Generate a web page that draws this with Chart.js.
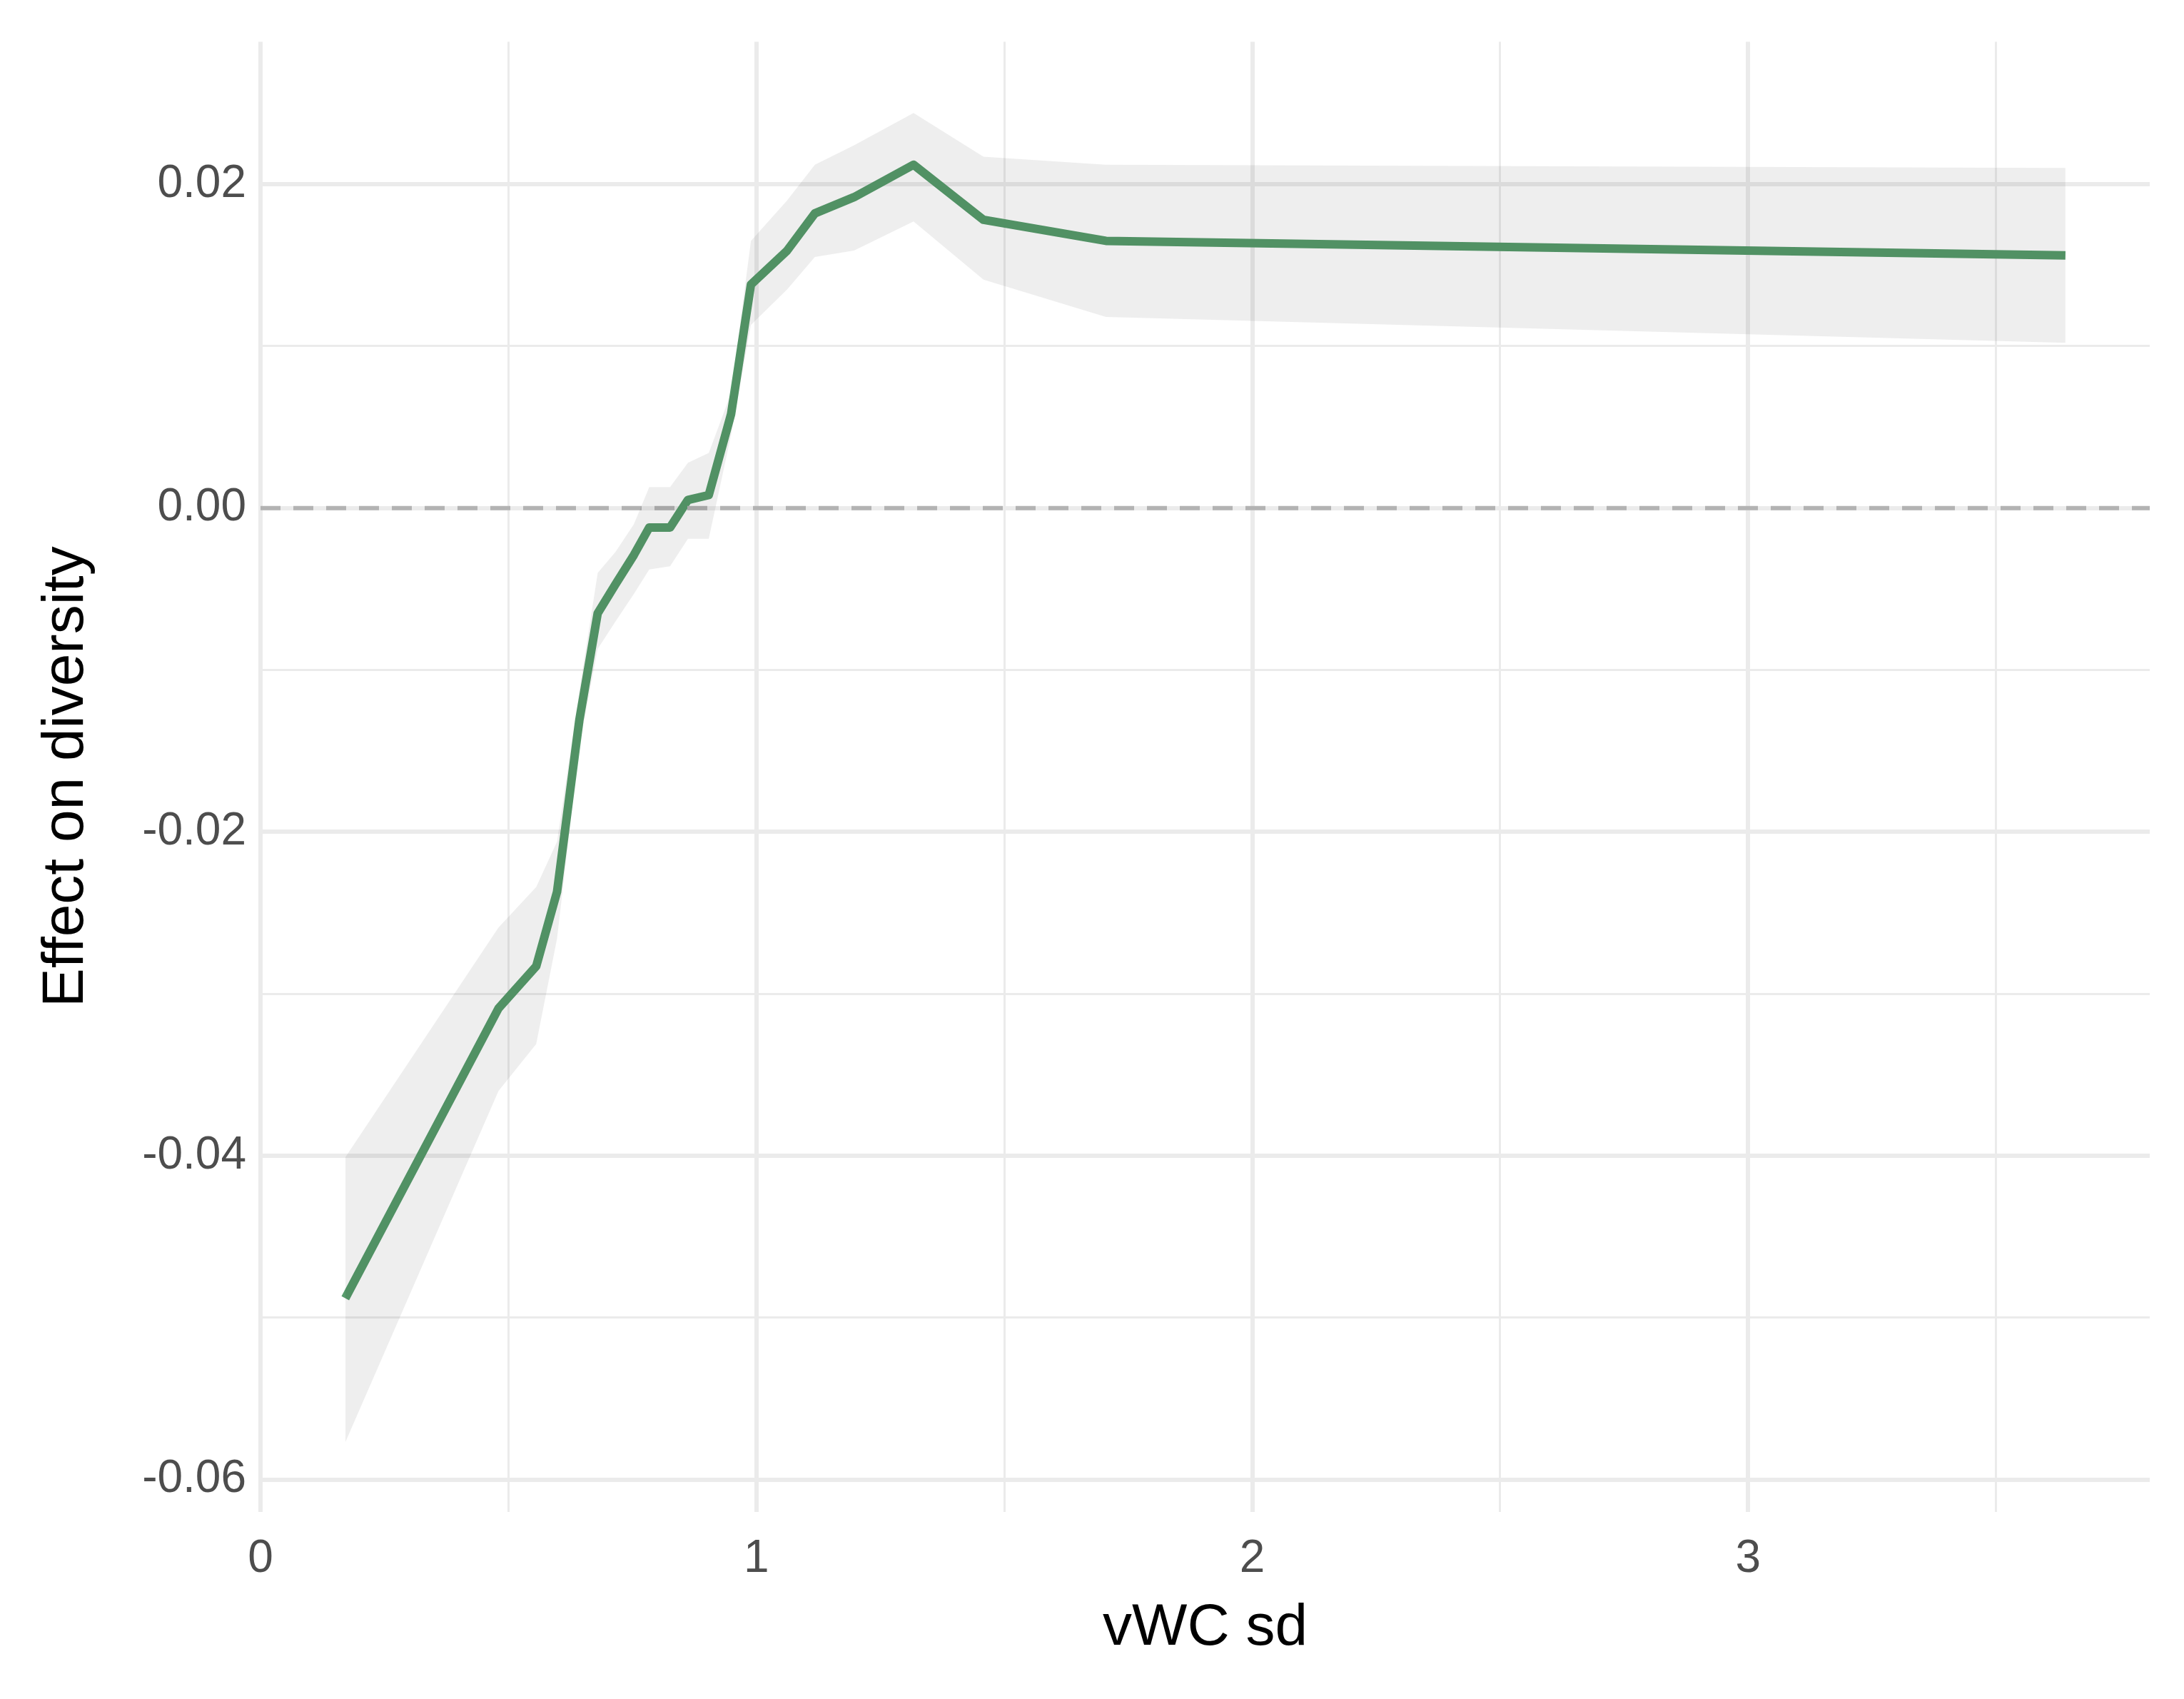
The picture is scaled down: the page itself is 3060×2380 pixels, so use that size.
<!DOCTYPE html>
<html lang="en">
<head>
<meta charset="UTF-8">
<title>Effect on diversity</title>
<script src="https://cdn.jsdelivr.net/npm/chart.js"></script>
<style>
  html, body { margin: 0; padding: 0; background: #fff; }
  #wrap { width: 3060px; height: 2380px; }
</style>
</head>
<body>
<div id="wrap"><canvas id="chart" width="3060" height="2380"></canvas></div>
<script>
  // values
  const xs    = [0.171, 0.48, 0.556, 0.598, 0.643, 0.680, 0.716, 0.753, 0.784, 0.826, 0.862, 0.904, 0.949, 0.989, 1.062, 1.118, 1.197, 1.317, 1.458, 1.705, 3.640];
  const effect = [-0.0488, -0.0309, -0.0283, -0.0237, -0.0131, -0.0065, -0.0047, -0.0029, -0.0012, -0.0012, 0.0005, 0.0008, 0.0058, 0.0138, 0.0159, 0.0182, 0.0192, 0.0212, 0.0178, 0.0165, 0.0156];
  const upper = [-0.0401, -0.0259, -0.0234, -0.0206, -0.0113, -0.0040, -0.0027, -0.0010, 0.0013, 0.0013, 0.0028, 0.0034, 0.0071, 0.0165, 0.0190, 0.0212, 0.0224, 0.0244, 0.0217, 0.0212, 0.0210];
  const lower = [-0.0577, -0.0360, -0.0331, -0.0266, -0.0147, -0.0087, -0.0070, -0.0053, -0.0038, -0.0036, -0.0019, -0.0019, 0.0045, 0.0113, 0.0135, 0.0155, 0.0159, 0.0177, 0.0141, 0.0118, 0.0102];
  const zeroLine = [[0, 0], [3.81, 0]];

  const pts = arr => xs.map((x, i) => ({ x, y: arr[i] }));
  const font = 'Liberation Sans, Arial, sans-serif';

  new Chart(document.getElementById('chart'), {
    type: 'line',
    data: {
      datasets: [
        { data: pts(lower), borderWidth: 0, pointRadius: 0, fill: false },
        { data: pts(upper), borderWidth: 0, pointRadius: 0, fill: '-1', backgroundColor: 'rgba(0,0,0,0.065)' },
        { data: zeroLine.map(p => ({ x: p[0], y: p[1] })), borderColor: '#b3b3b3', borderWidth: 6, borderDash: [28, 18], pointRadius: 0, fill: false },
        { data: pts(effect), borderColor: '#579c6c', borderWidth: 12, pointRadius: 0, fill: false, borderJoinStyle: 'round' }
      ]
    },
    options: {
      responsive: false,
      animation: false,
      layout: { padding: { top: 39, right: 48, left: 40, bottom: 45 } },
      plugins: { legend: { display: false }, tooltip: { enabled: false } },
      scales: {
        x: {
          type: 'linear', min: 0, max: 3.81,
          border: { display: false },
          grid: { color: '#ebebeb', lineWidth: c => Number.isInteger(c.tick.value) ? 6 : 3, drawTicks: false },
          ticks: { stepSize: 0.5, includeBounds: false, padding: 28, color: '#4d4d4d', font: { family: font, size: 64 },
            callback: v => Number.isInteger(v) ? String(v) : '' },
          title: { display: true, text: 'vWC sd', color: '#000', font: { family: font, size: 82 }, padding: { top: 0 } },
          afterFit: s => { s.height = 217; }
        },
        y: {
          type: 'linear', min: -0.062, max: 0.0288,
          border: { display: false },
          grid: { color: '#ebebeb', lineWidth: c => Math.round(c.tick.value * 100) % 2 === 0 ? 6 : 3, drawTicks: false },
          ticks: { stepSize: 0.01, includeBounds: false, padding: 20, color: '#4d4d4d', font: { family: font, size: 64 },
            callback: v => Math.round(v * 100) % 2 === 0 ? v.toFixed(2) : '' },
          title: { display: true, text: 'Effect on diversity', color: '#000', font: { family: font, size: 82 }, padding: { bottom: 16 } },
          afterFit: s => { s.width = 325; }
        }
      }
    }
  });
</script>
</body>
</html>
